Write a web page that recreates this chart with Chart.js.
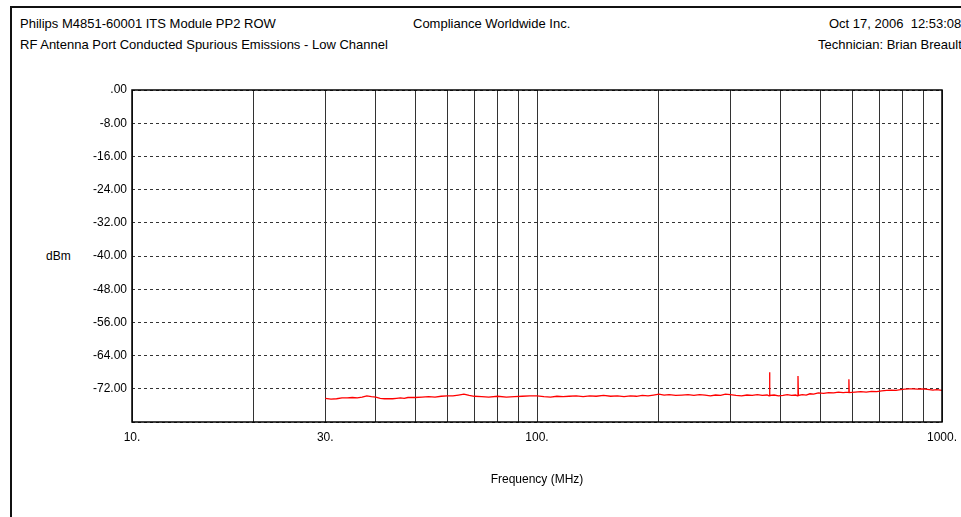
<!DOCTYPE html>
<html>
<head>
<meta charset="utf-8">
<script src="https://cdn.jsdelivr.net/npm/chart.js@4/dist/chart.umd.min.js"></script>
<style>
  html, body { margin: 0; padding: 0; background: #fff; }
  #wrap { position: relative; width: 961px; height: 517px; overflow: hidden; font-family: "Liberation Sans", Arial, sans-serif; font-size: 13px; color: #000; }
  #frame { position: absolute; left: 10px; top: 6px; width: 960px; height: 520px; border-top: 2px solid #111; border-left: 2px solid #111; }
  .txt { position: absolute; white-space: nowrap; line-height: 15px; }
  canvas { position: absolute; left: 0; top: 0; }
</style>
</head>
<body>
<div id="wrap">
  <div id="frame"></div>
  <div class="txt" style="left:20px; top:16px;">Philips M4851-60001 ITS Module PP2 ROW</div>
  <div class="txt" style="left:413px; top:16px;">Compliance Worldwide Inc.</div>
  <div class="txt" style="left:829px; top:16px;">Oct 17, 2006&nbsp;&nbsp;12:53:08</div>
  <div class="txt" style="left:20px; top:37px;">RF Antenna Port Conducted Spurious Emissions - Low Channel</div>
  <div class="txt" style="left:818px; top:37px;">Technician: Brian Breault</div>
  <div class="txt" style="left:46px; top:249px; font-size:12px;">dBm</div>
  <canvas id="chart" width="961" height="517"></canvas>
</div>
<script>
/* ===== DATA ===== */
const freqMHz = [
    30, 31, 32, 33, 34, 35, 36, 37, 38, 39,
    40, 41, 42, 43, 44, 45, 46, 47, 48, 50,
    52, 54, 56, 58, 60, 62, 64, 66, 68, 70,
    73, 76, 80, 84, 88, 92, 96, 100, 104, 108,
    112, 116, 120, 125, 130, 135, 140, 146, 152, 158,
    164, 170, 176, 182, 188, 194, 200, 206, 212, 220,
    228, 236, 244, 252, 260, 268, 276, 284, 292, 300,
    310, 320, 330, 340, 350, 360, 370, 374, 375, 376,
    385, 395, 405, 415, 425, 435, 440, 441, 442, 452,
    462, 472, 482, 495, 510, 525, 540, 555, 570, 588,
    589, 590, 610, 630, 650, 670, 690, 710, 730, 750,
    770, 790, 810, 830, 850, 870, 890, 910, 930, 950,
    970, 1000
];

const levelDbm = [
    -74.3, -74.5, -74.4, -74.2, -74.2, -74.1, -74.2, -74.0, -73.7, -73.9,
    -74.0, -74.3, -74.4, -74.4, -74.4, -74.3, -74.2, -74.3, -74.1, -74.1,
    -74.0, -73.9, -74.0, -73.8, -73.7, -73.7, -73.5, -73.3, -73.6, -73.8,
    -73.9, -74.0, -73.8, -74.0, -73.9, -73.8, -73.7, -73.7, -73.9, -74.0,
    -73.8, -73.9, -73.8, -73.7, -73.9, -73.7, -73.8, -73.6, -73.8, -73.7,
    -73.9, -73.7, -73.8, -73.6, -73.7, -73.5, -73.3, -73.5, -73.4, -73.6,
    -73.5, -73.4, -73.6, -73.4, -73.5, -73.7, -73.5, -73.6, -73.3, -73.4,
    -73.6, -73.7, -73.5, -73.6, -73.4, -73.6, -73.5, -73.7, -68.0, -73.6,
    -73.5, -73.7, -73.6, -73.4, -73.6, -73.5, -73.7, -68.9, -73.6, -73.4,
    -73.5, -73.2, -73.3, -73.0, -73.1, -72.9, -73.0, -72.8, -72.9, -72.8,
    -69.7, -72.9, -72.8, -72.7, -72.8, -72.6, -72.7, -72.5, -72.4, -72.3,
    -72.4, -72.2, -72.1, -72.0, -72.0, -72.1, -72.0, -72.1, -72.2, -72.3,
    -72.2, -72.4
];

// vertical grid lines (MHz) and which of them get a label
const xGridMHz = [10, 20, 30, 40, 50, 60, 70, 80, 90, 100, 200, 300, 400, 500, 600, 700, 800, 900, 1000];
const xLabelMHz = [10, 30, 100, 1000];

// y ticks (dBm) and their labels
const yTickDbm = [0, -8, -16, -24, -32, -40, -48, -56, -64, -72, -80];
const yTickLabels = ['.00', '-8.00', '-16.00', '-24.00', '-32.00', '-40.00', '-48.00', '-56.00', '-64.00', '-72.00', ''];

/* ===== PLOT FRAME ===== */
const framePlugin = {
    id: 'plotFrame',
    afterDraw(chart) {
        const { ctx, chartArea: a } = chart;
        ctx.save();
        ctx.strokeStyle = '#000';
        ctx.lineWidth = 1.5;
        ctx.strokeRect(a.left, a.top, a.right - a.left, a.bottom - a.top);
        ctx.restore();
    }
};

/* ===== CHART ===== */
const ctx = document.getElementById('chart').getContext('2d');

new Chart(ctx, {
    type: 'scatter',
    data: {
        datasets: [{
            data: freqMHz.map((f, i) => ({ x: f, y: levelDbm[i] })),
            showLine: true,
            borderColor: '#ff0000',
            borderWidth: 1.3,
            pointRadius: 0,
            tension: 0
        }]
    },
    options: {
        responsive: false,
        animation: false,
        layout: { padding: { top: 90, right: 19, left: 0, bottom: 0 } },
        plugins: {
            legend: { display: false },
            tooltip: { enabled: false }
        },
        scales: {
            x: {
                type: 'logarithmic',
                min: 10,
                max: 1000,
                afterFit: scale => {
                    scale.height = 95;
                    scale.paddingLeft = 0;
                    scale.paddingRight = 0;
                },
                afterBuildTicks: scale => {
                    scale.ticks = xGridMHz.map(v => ({ value: v }));
                },
                grid: { color: '#333', lineWidth: 1, drawTicks: false },
                border: { display: false },
                ticks: {
                    autoSkip: false,
                    maxRotation: 0,
                    padding: 8,
                    color: '#000',
                    font: { family: 'Liberation Sans', size: 12 },
                    callback: v => xLabelMHz.includes(v) ? v + '.' : ''
                },
                title: {
                    display: true,
                    text: 'Frequency (MHz)',
                    color: '#000',
                    font: { family: 'Liberation Sans', size: 12 },
                    padding: { top: 0, bottom: 30 }
                }
            },
            y: {
                min: -80,
                max: 0,
                afterFit: scale => {
                    scale.width = 132;
                    scale.paddingTop = 0;
                    scale.paddingBottom = 0;
                },
                afterBuildTicks: scale => {
                    scale.ticks = yTickDbm.map(v => ({ value: v }));
                },
                grid: { color: '#333', lineWidth: 1, drawTicks: false },
                border: { display: false, dash: [3, 3] },
                ticks: {
                    padding: 5,
                    color: '#000',
                    font: { family: 'Liberation Sans', size: 12 },
                    callback: v => yTickLabels[yTickDbm.indexOf(v)]
                }
            }
        }
    },
    plugins: [framePlugin]
});
</script>
</body>
</html>
